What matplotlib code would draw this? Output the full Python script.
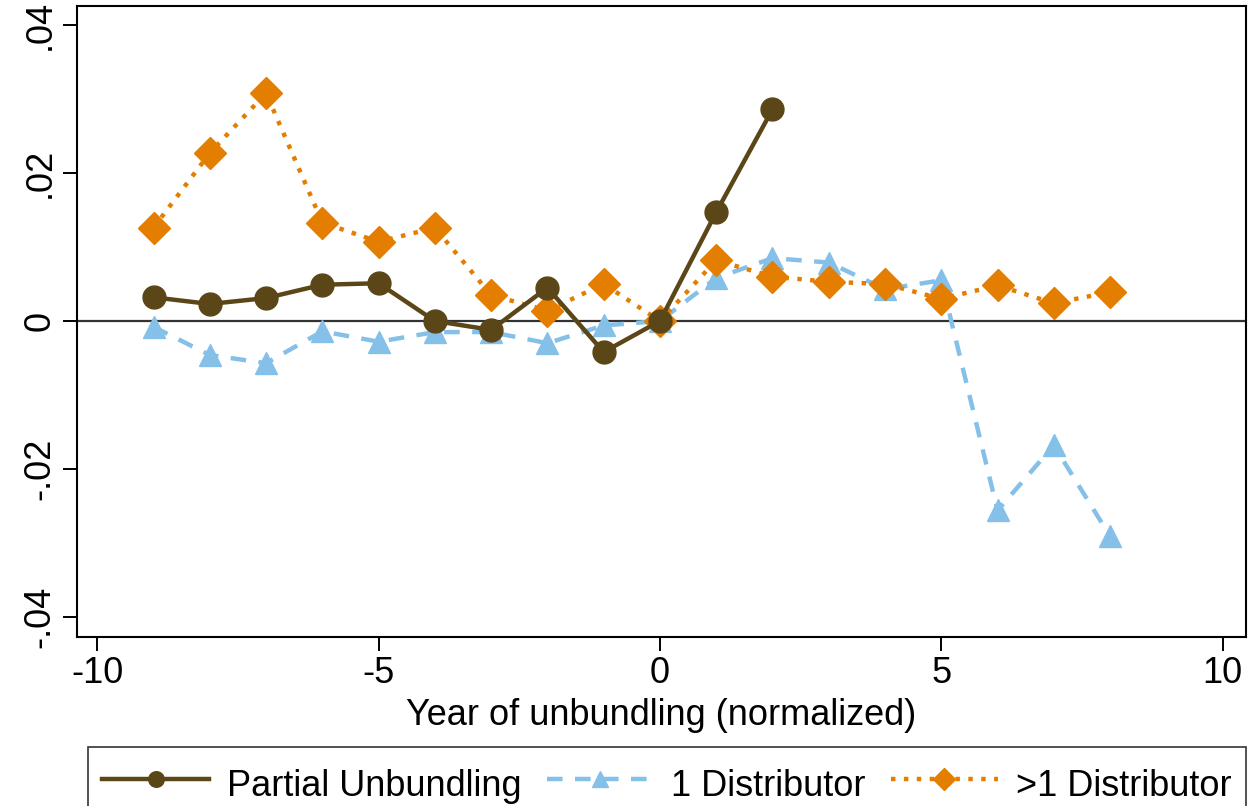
import matplotlib
matplotlib.use("Agg")
import matplotlib.pyplot as plt

plt.rcParams['font.family'] = ['Liberation Sans', 'DejaVu Sans']
plt.rcParams['axes.unicode_minus'] = False

years_partial = [-9, -8, -7, -6, -5, -4, -3, -2, -1, 0, 1, 2]
partial = [0.0032, 0.0023, 0.0031, 0.0049, 0.0051, 0.0000, -0.0012, 0.0045, -0.0042, 0.0, 0.0147, 0.0286]

years = [-9, -8, -7, -6, -5, -4, -3, -2, -1, 0, 1, 2, 3, 4, 5, 6, 7, 8]
one_dist = [-0.0008, -0.0046, -0.0057, -0.0014, -0.0028, -0.0015, -0.0015, -0.0030, -0.0006, 0.0,
            0.0058, 0.0085, 0.0079, 0.0043, 0.0055, -0.0256, -0.0168, -0.0291]
multi_dist = [0.0126, 0.0227, 0.0308, 0.0133, 0.0107, 0.0126, 0.0035, 0.0014, 0.0050, 0.0,
              0.0082, 0.0060, 0.0053, 0.0050, 0.0030, 0.0048, 0.0024, 0.0039]

xticks = [-10, -5, 0, 5, 10]
yticks = [-0.04, -0.02, 0, 0.02, 0.04]
ytick_labels = ['-.04', '-.02', '0', '.02', '.04']

brown = '#5b4618'
blue = '#85c0e9'
orange = '#e37e00'

fig = plt.figure(figsize=(12.54, 8.06), dpi=100)
ax = fig.add_axes([0.0614, 0.2097, 0.932, 0.7829])

ax.axhline(0, color='#333333', lw=1.6, zorder=1)

ax.plot(years_partial, partial, color=brown, lw=3.2, marker='o', ms=16.5,
        label='Partial Unbundling', zorder=4)
ax.plot(years, one_dist, color=blue, lw=3.2, ls=(0, (3.5, 2.8)), marker='^', ms=16.5,
        label='1 Distributor', zorder=3)
ax.plot(years, multi_dist, color=orange, lw=3.2, ls=(0, (1, 1.9)), marker='D', ms=16.5,
        label='>1 Distributor', zorder=3)

ax.set_xlim(-10.36, 10.41)
ax.set_ylim(-0.0427, 0.04257)
ax.set_xticks(xticks)
ax.set_yticks(yticks)
ax.set_yticklabels(ytick_labels, rotation=90, va='center')
ax.tick_params(axis='both', labelsize=26, length=10, width=1.4, direction='out', pad=4)
for s in ax.spines.values():
    s.set_linewidth(1.5)
ax.set_xlabel('Year of unbundling (normalized)', fontsize=26, labelpad=5)

handles, labels = ax.get_legend_handles_labels()
leg = fig.legend(handles, labels, loc='upper left', bbox_to_anchor=(88 / 1254, 1 - 747 / 806),
                 ncol=3, fontsize=26, frameon=True, fancybox=False, edgecolor='black',
                 handlelength=2.95, handleheight=1.6, handletextpad=0.5, columnspacing=0.7,
                 markerscale=0.68, borderaxespad=0, borderpad=0.4)
leg.get_frame().set_linewidth(1.2)

fig.savefig('out.png', dpi=100)
